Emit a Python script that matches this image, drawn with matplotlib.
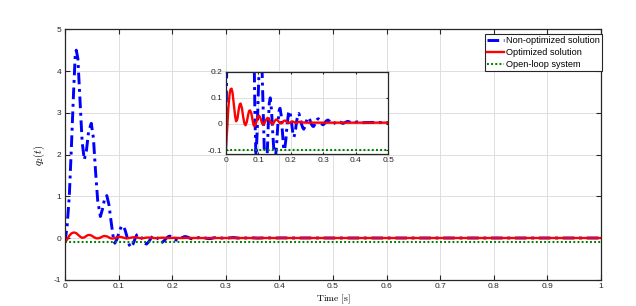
import matplotlib
matplotlib.use("Agg")
import matplotlib.pyplot as plt
from matplotlib.ticker import FuncFormatter

plt.rcParams['font.family'] = ['Liberation Sans', 'DejaVu Sans']
plt.rcParams['mathtext.fontset'] = 'cm'

# ---- data ----
blue_t = [0.000, 0.004, 0.008, 0.012, 0.016, 0.019, 0.021, 0.024, 0.028, 0.032,
          0.036, 0.040, 0.044, 0.049, 0.053, 0.057, 0.061, 0.066, 0.070, 0.074,
          0.078, 0.082, 0.086, 0.090, 0.093, 0.097, 0.101, 0.105, 0.108, 0.112,
          0.116, 0.120, 0.123, 0.127, 0.131, 0.134, 0.137, 0.141, 0.145, 0.149,
          0.152, 0.156, 0.160, 0.164, 0.167, 0.171, 0.175, 0.178, 0.181, 0.185,
          0.189, 0.193, 0.196, 0.200, 0.204, 0.207, 0.210, 0.214, 0.218, 0.222,
          0.225, 0.229, 0.233, 0.237, 0.240, 0.244, 0.248, 0.252, 0.255, 0.259,
          0.263, 0.267, 0.270, 0.274, 0.278, 0.282, 0.285, 0.289, 0.293, 0.297,
          0.300, 0.304, 0.308, 0.312, 0.315, 0.319, 0.323, 0.327, 0.330, 0.345,
          0.360, 0.375, 0.390, 0.405, 0.420, 0.450, 0.500, 1.000]
blue_v = [-0.10, 0.30, 1.00, 2.20, 3.50, 4.35, 4.50, 4.30, 3.30, 2.30,
          1.88, 2.10, 2.55, 2.75, 2.40, 1.60, 0.90, 0.52, 0.70, 0.95,
          1.02, 0.80, 0.40, 0.02, -0.12, -0.02, 0.15, 0.28, 0.30, 0.20,
          0.02, -0.16, -0.22, -0.14, 0.00, 0.08, 0.10, 0.05, -0.04, -0.12,
          -0.14, -0.09, -0.01, 0.05, 0.06, 0.03, -0.04, -0.09, -0.10, -0.06,
          0.00, 0.04, 0.05, 0.03, -0.01, -0.04, -0.05, -0.03, 0.01, 0.035,
          0.04, 0.025, 0.00, -0.015, -0.02, -0.01, 0.01, 0.022, 0.025, 0.015,
          0.00, -0.008, -0.01, -0.002, 0.01, 0.018, 0.02, 0.012, 0.003, -0.002,
          -0.003, 0.002, 0.01, 0.014, 0.015, 0.01, 0.003, 0.0, 0.0, 0.012,
          0.002, 0.010, 0.004, 0.008, 0.005, 0.006, 0.005, 0.005]

red_t = [0.000, 0.004, 0.008, 0.012, 0.015, 0.018, 0.021, 0.025, 0.029, 0.032,
         0.036, 0.040, 0.043, 0.046, 0.050, 0.054, 0.058, 0.061, 0.065, 0.069,
         0.072, 0.075, 0.079, 0.083, 0.086, 0.089, 0.093, 0.097, 0.100, 0.103,
         0.107, 0.111, 0.114, 0.118, 0.122, 0.126, 0.129, 0.132, 0.136, 0.140,
         0.144, 0.147, 0.151, 0.155, 0.159, 0.163, 0.167, 0.171, 0.175, 0.179,
         0.183, 0.188, 0.192, 0.196, 0.200, 0.205, 0.210, 0.215, 0.220, 0.225,
         0.230, 0.250, 0.300, 0.500, 1.000]
red_v = [-0.100, -0.030, 0.060, 0.115, 0.133, 0.135, 0.120, 0.075, 0.030, 0.010,
         0.020, 0.055, 0.075, 0.078, 0.060, 0.025, 0.000, -0.005, 0.008, 0.035,
         0.050, 0.052, 0.040, 0.012, -0.005, -0.008, 0.002, 0.020, 0.030, 0.031,
         0.022, 0.006, -0.002, 0.000, 0.010, 0.020, 0.023, 0.020, 0.012, 0.003,
         0.000, 0.003, 0.012, 0.017, 0.015, 0.009, 0.003, 0.002, 0.006, 0.012,
         0.013, 0.008, 0.004, 0.004, 0.008, 0.010, 0.007, 0.004, 0.005, 0.008,
         0.006, 0.005, 0.005, 0.005, 0.005]

green_t = [0.0, 1.0]
green_v = [-0.1, -0.1]

labels = ["Non-optimized solution", "Optimized solution", "Open-loop system"]
main_xticks = [0, 0.1, 0.2, 0.3, 0.4, 0.5, 0.6, 0.7, 0.8, 0.9, 1.0]
main_yticks = [-1, 0, 1, 2, 3, 4, 5]
inset_xticks = [0, 0.1, 0.2, 0.3, 0.4, 0.5]
inset_yticks = [-0.1, 0, 0.1, 0.2]

assert len(blue_t) == len(blue_v) and len(red_t) == len(red_v)

# ---- styling ----
W, H = 636, 306
fig = plt.figure(figsize=(W / 100, H / 100), dpi=100)
spine_c = (0.15, 0.15, 0.15)
grid_c = (0.87, 0.87, 0.87)
blue_style = dict(color='#0000ff', lw=2.1, linestyle=(0, (4.0, 1.6, 1.0, 1.6)))
red_style = dict(color='#ff0000', lw=1.7, linestyle='-')
green_style = dict(color='#008000', lw=1.5, linestyle=(0, (0.9, 1.1)))
fmt = FuncFormatter(lambda v, p: ('%g' % round(v, 6)))


def style_axes(ax, tl, fs):
    for s in ax.spines.values():
        s.set_color(spine_c)
        s.set_linewidth(0.9)
    ax.tick_params(direction='in', length=tl, width=0.8, color=spine_c,
                   labelsize=fs, labelcolor=(0.15, 0.15, 0.15), top=True,
                   right=True, pad=2.5)
    ax.grid(True, color=grid_c, lw=0.7)
    ax.set_axisbelow(True)
    ax.xaxis.set_major_formatter(fmt)
    ax.yaxis.set_major_formatter(fmt)


ax = fig.add_axes([65 / W, 1 - 280 / H, (601 - 65) / W, (280 - 29.3) / H])
ax.plot(blue_t, blue_v, label=labels[0], **blue_style)
ax.plot(red_t, red_v, label=labels[1], **red_style)
ax.plot(green_t, green_v, label=labels[2], **green_style)
ax.set_xlim(0, 1)
ax.set_ylim(-1, 5)
ax.set_xticks(main_xticks)
ax.set_yticks(main_yticks)
style_axes(ax, 3.6, 6.0)
ax.set_xlabel(r"$\mathrm{Time\ [s]}$", fontsize=7, labelpad=1.5)
ax.set_ylabel(r"$q_2(t)$", fontsize=7.5, labelpad=5)

leg = ax.legend(loc='upper right', bbox_to_anchor=(602 / W, 1 - 34 / H),
                bbox_transform=fig.transFigure, borderaxespad=0,
                fontsize=6.6, handlelength=1.9, handletextpad=0.15,
                labelspacing=0.3, borderpad=0.25, fancybox=False,
                framealpha=1, edgecolor=spine_c)
leg.get_frame().set_linewidth(0.8)

ins = fig.add_axes([225.7 / W, 1 - 154 / H, (388.3 - 225.7) / W, (154 - 71.7) / H])
ins.plot(blue_t, blue_v, **blue_style)
ins.plot(red_t, red_v, **red_style)
ins.plot(green_t, green_v, **green_style)
ins.set_xlim(0, 0.5)
ins.set_ylim(-0.115, 0.2)
ins.set_xticks(inset_xticks)
ins.set_yticks(inset_yticks)
style_axes(ins, 1.5, 6.0)

fig.savefig("out.png", dpi=100)
